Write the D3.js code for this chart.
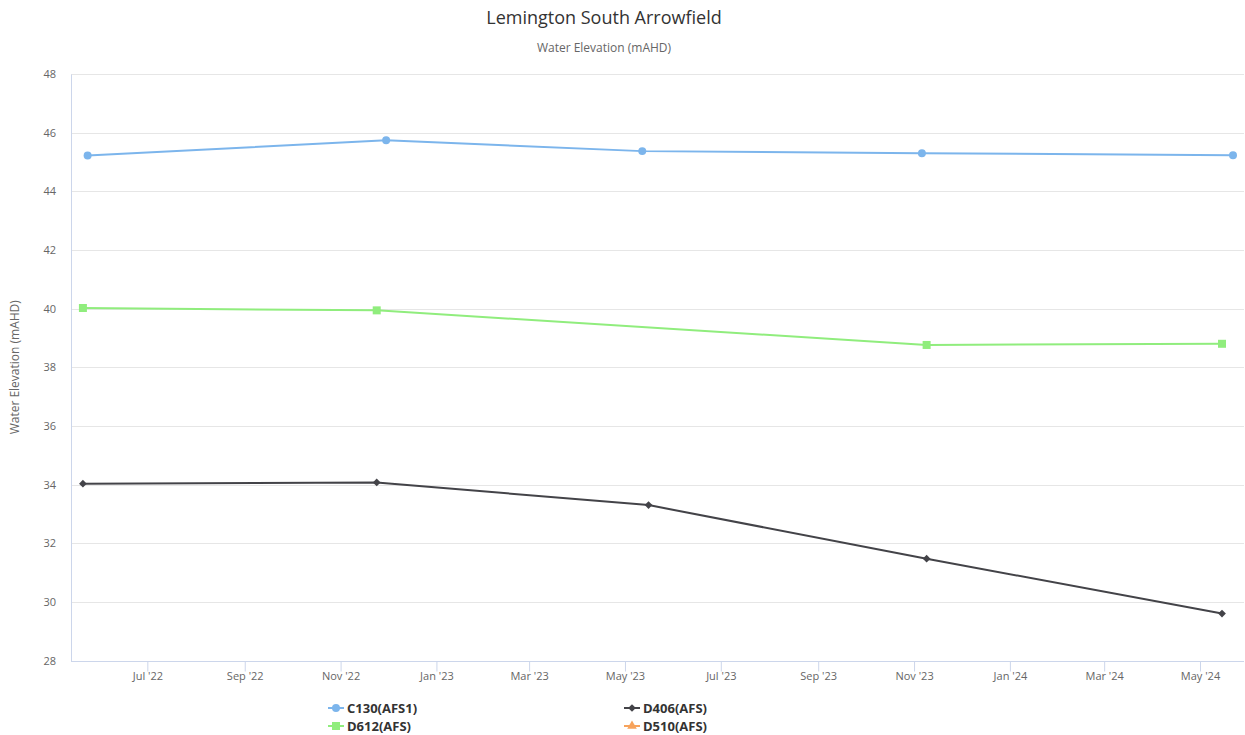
<!DOCTYPE html>
<html>
<head>
<meta charset="utf-8">
<script src="https://cdn.jsdelivr.net/npm/d3@7"></script>
<style>
  html, body { margin: 0; padding: 0; background: #fff; }
  svg { display: block; font-family: "Open Sans", "Liberation Sans", sans-serif; }
</style>
</head>
<body>
<svg id="chart" width="1245" height="735"></svg>
<script>
// Monitoring bores and their sampled water elevations (mAHD)
const seriesNames = ["C130(AFS1)", "D612(AFS)", "D406(AFS)", "D510(AFS)"];
const seriesColors = ["#7cb5ec", "#90ed7d", "#434348", "#f7a35c"];
const seriesSymbols = ["circle", "square", "diamond", "triangle"];

const c130Dates = ["2022-05-24", "2022-11-30", "2023-05-12", "2023-11-06", "2024-05-22"];
const c130Values = [45.22, 45.74, 45.37, 45.30, 45.23];

const d612Dates = ["2022-05-21", "2022-11-24", "2023-11-09", "2024-05-15"];
const d612Values = [40.02, 39.94, 38.76, 38.80];

const d406Dates = ["2022-05-21", "2022-11-24", "2023-05-16", "2023-11-09", "2024-05-15"];
const d406Values = [34.03, 34.07, 33.30, 31.47, 29.60];

const d510Dates = [];
const d510Values = [];

const yTicks = [28, 30, 32, 34, 36, 38, 40, 42, 44, 46, 48];
const xTickDates = ["2022-07-01", "2022-09-01", "2022-11-01", "2023-01-01", "2023-03-01", "2023-05-01",
                    "2023-07-01", "2023-09-01", "2023-11-01", "2024-01-01", "2024-03-01", "2024-05-01"];
const xDomain = ["2022-05-13T10:00", "2024-05-29T00:00"];

const parse = s => new Date(s);
const series = [
  { dates: c130Dates, values: c130Values },
  { dates: d612Dates, values: d612Values },
  { dates: d406Dates, values: d406Values },
  { dates: d510Dates, values: d510Values }
].map((s, i) => ({
  name: seriesNames[i],
  color: seriesColors[i],
  symbol: seriesSymbols[i],
  points: s.dates.map((d, j) => ({ date: parse(d), value: s.values[j] }))
}));

const svg = d3.select("#chart");
const plot = { left: 71, right: 1244, top: 74, bottom: 660.5 };

const x = d3.scaleTime().domain(xDomain.map(parse)).range([plot.left, plot.right]);
const y = d3.scaleLinear().domain([28, 48]).range([plot.bottom, plot.top]);

// Marker shapes: the diamond is a square turned by 45 degrees
const symbolTypes = {
  circle: d3.symbolCircle,
  square: d3.symbolSquare,
  diamond: d3.symbolSquare,
  triangle: d3.symbolTriangle
};
const symbolSizes = { circle: 50, square: 64, diamond: 30, triangle: 40 };
const symbolRotation = { circle: 0, square: 0, diamond: 45, triangle: 0 };

// Title and subtitle
svg.append("text").attr("x", 604).attr("y", 24).attr("text-anchor", "middle")
  .attr("fill", "#333333").style("font-size", "18px").text("Lemington South Arrowfield");
svg.append("text").attr("x", 604).attr("y", 52).attr("text-anchor", "middle")
  .attr("fill", "#666666").style("font-size", "12px").text("Water Elevation (mAHD)");

// Horizontal grid lines
svg.append("g").selectAll("line").data(yTicks).join("line")
  .attr("x1", plot.left).attr("x2", plot.right)
  .attr("y1", d => Math.round(y(d)) + 0.5).attr("y2", d => Math.round(y(d)) + 0.5)
  .attr("stroke", "#e6e6e6").attr("stroke-width", 1);

// Y axis labels
const yAxis = d3.axisLeft(y).tickValues(yTicks).tickSize(0).tickPadding(15).tickFormat(d3.format("d"));
const yG = svg.append("g").attr("transform", `translate(${plot.left},0)`).call(yAxis);
yG.select(".domain").attr("stroke", "#ccd6eb");
yG.selectAll("text").attr("fill", "#666666").style("font-size", "11px")
  .style("font-family", "'Open Sans', 'Liberation Sans', sans-serif");

// Y axis title
svg.append("text")
  .attr("transform", `translate(19,${(plot.top + plot.bottom) / 2}) rotate(-90)`)
  .attr("text-anchor", "middle").attr("fill", "#666666").style("font-size", "12px")
  .text("Water Elevation (mAHD)");

// X axis
const xAxis = d3.axisBottom(x).tickValues(xTickDates.map(parse)).tickSize(10).tickPadding(1)
  .tickFormat(d3.timeFormat("%b '%y"));
const xG = svg.append("g").attr("transform", `translate(0,${Math.round(plot.bottom) + 0.5})`).call(xAxis);
xG.select(".domain").attr("stroke", "#ccd6eb").attr("d", `M${plot.left},0H${plot.right}`);
xG.selectAll(".tick line").attr("stroke", "#ccd6eb");
xG.selectAll("text").attr("fill", "#666666").style("font-size", "11px")
  .style("font-family", "'Open Sans', 'Liberation Sans', sans-serif");

// Series lines and markers
const line = d3.line().x(d => x(d.date)).y(d => y(d.value));
const markerPath = s => d3.symbol().type(symbolTypes[s.symbol]).size(symbolSizes[s.symbol])();
const seriesG = svg.append("g");
series.forEach(s => {
  const g = seriesG.append("g");
  g.append("path").datum(s.points).attr("d", line)
    .attr("fill", "none").attr("stroke", s.color).attr("stroke-width", 2)
    .attr("stroke-linejoin", "round").attr("stroke-linecap", "round");
  g.selectAll("path.marker").data(s.points).join("path").attr("class", "marker")
    .attr("transform", d => `translate(${x(d.date)},${y(d.value)}) rotate(${symbolRotation[s.symbol]})`)
    .attr("d", markerPath(s))
    .attr("fill", s.color);
});

// Legend (two columns)
const legendPos = [[328, 708], [328, 726], [624, 708], [624, 726]];
series.forEach((s, i) => {
  const [lx, ly] = legendPos[i];
  const g = svg.append("g").attr("transform", `translate(${lx},${ly})`);
  g.append("line").attr("x1", 0).attr("x2", 16).attr("y1", 0).attr("y2", 0)
    .attr("stroke", s.color).attr("stroke-width", 2);
  g.append("path").attr("transform", `translate(8,0) rotate(${symbolRotation[s.symbol]})`)
    .attr("d", markerPath(s))
    .attr("fill", s.color);
  g.append("text").attr("x", 19).attr("y", 4.5).attr("fill", "#333333")
    .style("font-size", "13px").style("font-weight", "bold").text(s.name);
});
</script>
</body>
</html>
